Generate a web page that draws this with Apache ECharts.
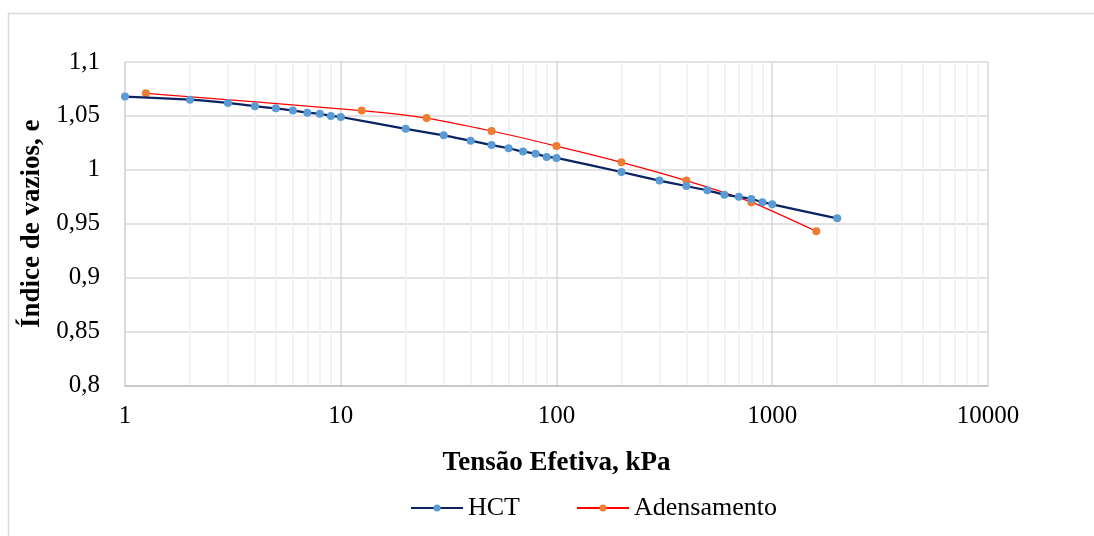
<!DOCTYPE html>
<html>
<head>
<meta charset="utf-8">
<script src="https://cdn.jsdelivr.net/npm/echarts@6/dist/echarts.min.js"></script>
<style>
html,body{margin:0;padding:0;background:#fff;}
#chart{width:1094px;height:536px;}
</style>
</head>
<body>
<div id="chart"></div>
<script>
// Data
var hctStress = [1,2,3,4,5,6,7,8,9,10,20,30,40,50,60,70,80,90,100,200,300,400,500,600,700,800,900,1000,2000];
var hctVoid = [1.068,1.065,1.062,1.059,1.057,1.055,1.053,1.052,1.050,1.049,1.038,1.032,1.027,1.023,1.020,1.017,1.015,1.012,1.011,0.998,0.990,0.985,0.981,0.977,0.975,0.973,0.970,0.968,0.955];
var adStress = [1.25,12.5,25,50,100,200,400,800,1600];
var adVoid = [1.071,1.055,1.048,1.036,1.022,1.007,0.990,0.970,0.943];
var minorGridValues = [2,3,4,5,6,7,8,9,20,30,40,50,60,70,80,90,200,300,400,500,600,700,800,900,2000,3000,4000,5000,6000,7000,8000,9000];
var seriesNames = ['HCT','Adensamento'];
var xTitle = 'Tensão Efetiva, kPa';
var yTitle = 'Índice de vazios, e';

var FONT = "'Liberation Serif','Times New Roman',serif";
function pairs(xs, ys){ return xs.map(function(x,i){ return [x, ys[i]]; }); }

var chart = echarts.init(document.getElementById('chart'));
chart.setOption({
  animation: false,
  backgroundColor: '#fff',
  textStyle: {fontFamily: FONT},
  graphic: [{
    type: 'rect', silent: true, z: -10,
    shape: {x: 8.5, y: 13.5, width: 1100, height: 600},
    style: {fill: 'none', stroke: '#d9d9d9', lineWidth: 1.5}
  }],
  grid: {left: 125, right: 106, top: 62, bottom: 150.5, containLabel: false},
  legend: {
    left: 405, top: 490,
    itemWidth: 52, itemHeight: 9, itemGap: 56,
    textStyle: {fontFamily: FONT, fontSize: 26, color: '#000'},
    data: seriesNames
  },
  xAxis: {
    type: 'log', logBase: 10, min: 1, max: 10000,
    name: xTitle, nameLocation: 'middle', nameGap: 64,
    nameTextStyle: {fontFamily: FONT, fontSize: 27, fontWeight: 'bold', color: '#000'},
    axisLine: {show: true, lineStyle: {color: '#bfbfbf', width: 1.5}},
    axisTick: {show: false},
    axisLabel: {fontFamily: FONT, fontSize: 25, color: '#000', margin: 18,
      formatter: function(v){ return String(Math.round(v)); }},
    splitLine: {show: true, lineStyle: {color: '#d9d9d9', width: 1.5}},
    minorTick: {show: false}, minorSplitLine: {show: false}
  },
  yAxis: {
    type: 'value', min: 0.8, max: 1.1, interval: 0.05,
    name: yTitle, nameLocation: 'middle', nameGap: 77, nameRotate: 90,
    nameTextStyle: {fontFamily: FONT, fontSize: 27, fontWeight: 'bold', color: '#000'},
    axisLine: {show: true, lineStyle: {color: '#d9d9d9', width: 1.5}},
    axisTick: {show: false},
    axisLabel: {fontFamily: FONT, fontSize: 25, color: '#000', margin: 25,
      formatter: function(v){ return String(+v.toFixed(2)).replace('.', ','); }},
    splitLine: {show: true, lineStyle: {color: '#d9d9d9', width: 1.5}}
  },
  series: [
    {
      name: 'minor', type: 'line', data: [], z: 0, silent: true,
      markLine: {
        silent: true, symbol: 'none', label: {show: false}, z: 0,
        lineStyle: {color: '#efefef', width: 1.5, type: 'solid'},
        data: minorGridValues.map(function(v){ return {xAxis: v}; })
      }
    },
    {
      name: seriesNames[0], type: 'line', data: pairs(hctStress, hctVoid),
      smooth: 0.2, symbol: 'circle', symbolSize: 8, z: 3,
      lineStyle: {color: '#0a2362', width: 2.25},
      itemStyle: {color: '#5b9bd5', borderWidth: 0}
    },
    {
      name: seriesNames[1], type: 'line', data: pairs(adStress, adVoid),
      smooth: 0.2, symbol: 'circle', symbolSize: 8, z: 2,
      lineStyle: {color: '#ff0000', width: 1.25},
      itemStyle: {color: '#ed7d31', borderWidth: 0}
    }
  ]
});
</script>
</body>
</html>
